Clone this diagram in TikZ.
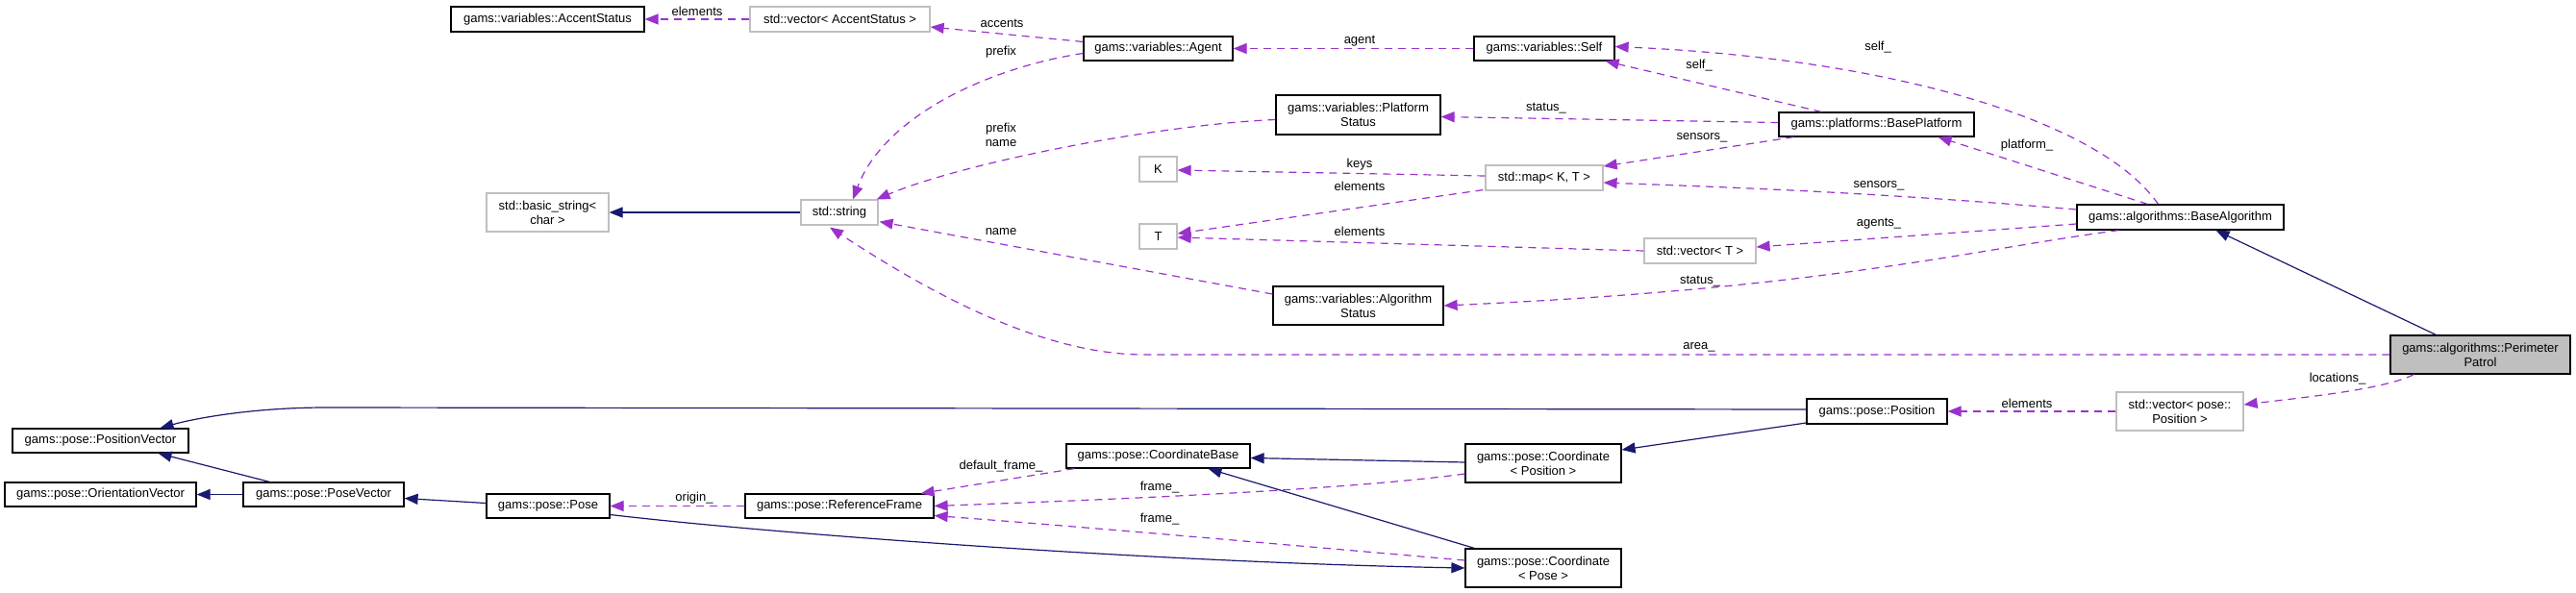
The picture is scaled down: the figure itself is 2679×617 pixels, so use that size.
\documentclass[tikz,border=0pt]{standalone}
\usepackage{fontspec}
\setmainfont{Liberation Sans}
\usetikzlibrary{arrows.meta,calc}
\definecolor{navy}{HTML}{191970}
\definecolor{orchid}{HTML}{9A32CD}
\definecolor{ugrey}{HTML}{BFBFBF}
\tikzset{
  cls/.style={draw=black,line width=1.2pt,rectangle,inner sep=0pt,align=center,font=\fontsize{13}{15}\selectfont},
  ucls/.style={draw=ugrey,line width=1.2pt,rectangle,inner sep=0pt,align=center,font=\fontsize{13}{15}\selectfont},
  cur/.style={draw=black,fill=ugrey,line width=1.2pt,rectangle,inner sep=0pt,align=center,font=\fontsize{13}{15}\selectfont},
  inh/.style={draw=navy,line width=1.2pt,-{Triangle[length=14pt,width=11pt]}},
  use/.style={draw=orchid,line width=1.2pt,dash pattern=on 8pt off 6pt,-{Triangle[length=14pt,width=11pt]}},
  lbl/.style={inner sep=0pt,align=center,font=\fontsize{13}{15}\selectfont}
}
\begin{document}
\begin{tikzpicture}[x=1pt,y=-1pt]
\useasboundingbox (0,0) rectangle (2679,617);
% nodes
\node[cls,minimum width=201,minimum height=26] (acc) at (569.5,20) {gams::variables::AccentStatus};
\node[ucls,minimum width=187,minimum height=26] (vacc) at (873.5,20) {std::vector< AccentStatus >};
\node[cls,minimum width=155,minimum height=25] (agent) at (1204.5,50.5) {gams::variables::Agent};
\node[cls,minimum width=146,minimum height=25] (self) at (1606,50.5) {gams::variables::Self};
\node[cls,minimum width=171,minimum height=41] (pstat) at (1412.5,119.5) {gams::variables::Platform\\Status};
\node[cls,minimum width=203,minimum height=25] (bplat) at (1951.5,129.5) {gams::platforms::BasePlatform};
\node[ucls,minimum width=127,minimum height=40] (bstr) at (569.5,221) {std::basic\_string<\\char >};
\node[ucls,minimum width=80,minimum height=26] (str) at (873,221) {std::string};
\node[ucls,minimum width=39,minimum height=26] (K) at (1204.5,176) {K};
\node[ucls,minimum width=122,minimum height=26] (map) at (1606,185) {std::map< K, T >};
\node[ucls,minimum width=39,minimum height=26] (T) at (1204.5,246) {T};
\node[ucls,minimum width=116,minimum height=26] (vT) at (1768,261) {std::vector< T >};
\node[cls,minimum width=215,minimum height=26] (balg) at (2267.5,226) {gams::algorithms::BaseAlgorithm};
\node[cls,minimum width=177,minimum height=40] (astat) at (1412.5,318) {gams::variables::Algorithm\\Status};
\node[cur,minimum width=187,minimum height=40] (pp) at (2579.5,369) {gams::algorithms::Perimeter\\Patrol};
\node[cls,minimum width=146,minimum height=26] (pos) at (1952,428) {gams::pose::Position};
\node[ucls,minimum width=132,minimum height=40] (vpos) at (2267,428) {std::vector< pose::\\Position >};
\node[cls,minimum width=183,minimum height=25] (posv) at (104.5,458.5) {gams::pose::PositionVector};
\node[cls,minimum width=199,minimum height=25] (orv) at (104.5,514.5) {gams::pose::OrientationVector};
\node[cls,minimum width=167,minimum height=25] (psv) at (336.5,514.5) {gams::pose::PoseVector};
\node[cls,minimum width=128,minimum height=25] (pose) at (570,526.5) {gams::pose::Pose};
\node[cls,minimum width=196,minimum height=25] (rf) at (873,526.5) {gams::pose::ReferenceFrame};
\node[cls,minimum width=191,minimum height=25] (cb) at (1204.5,474.5) {gams::pose::CoordinateBase};
\node[cls,minimum width=162,minimum height=40] (cpos) at (1605,482) {gams::pose::Coordinate\\< Position >};
\node[cls,minimum width=162,minimum height=40] (cpose) at (1605,591) {gams::pose::Coordinate\\< Pose >};

% usage edges (purple dashed)
\draw[use] (vacc.west) -- (acc.east);
\draw[use] ($(agent.west)+(0,-7)$) -- ($(vacc.east)+(0,8)$);
\draw[use] ($(agent.west)+(0,5)$) .. controls (1030,70) and (920,120) .. ($(str.north)+(14,0)$);
\draw[use] ($(pstat.west)+(0,5)$) .. controls (1200,130) and (1000,170) .. ($(str.north east)+(-2,0)$);
\draw[use] (self.west) -- (agent.east);
\draw[use] ($(bplat.north west)+(45,0)$) -- ($(self.south east)+(-10,0)$);
\draw[use] ($(balg.north)+(-23,0)$) .. controls (2180,120) and (1950,60) .. ($(self.east)+(0,-2)$);
\draw[use] ($(bplat.west)+(0,-2)$) -- ($(pstat.east)+(0,2)$);
\draw[use] ($(bplat.south west)+(16,0)$) -- ($(map.east)+(0,-12)$);
\draw[use] ($(balg.north)+(-34,0)$) -- ($(bplat.south east)+(-38,0)$);
\draw[use] ($(balg.west)+(0,-8)$) .. controls (1950,200) and (1800,195) .. ($(map.east)+(0,5)$);
\draw[use] ($(map.west)+(0,-2)$) -- ($(K.east)+(0,1)$);
\draw[use] ($(map.south west)+(-2,-1)$) -- ($(T.east)+(0,-3)$);
\draw[use] (vT.west) -- ($(T.east)+(0,1)$);
\draw[use] ($(balg.west)+(0,7)$) -- ($(vT.east)+(0,-4)$);
\draw[use] ($(balg.south west)+(44,0)$) .. controls (2050,260) and (1900,300) .. (astat.east);
\draw[use] ($(astat.west)+(0,-12)$) -- ($(str.south east)+(1,-4)$);
\draw[use] (pp.west) -- (1190,369) .. controls (1080,369) and (960,300) .. ($(str.south)+(-10,2)$);
\draw[use] ($(pp.south west)+(25,0)$) .. controls (2480,405) and (2400,413) .. ($(vpos.east)+(0,-7)$);
\draw[use] (vpos.west) -- (pos.east);
\draw[use] (rf.west) -- (pose.east);
\draw[use] ($(cb.south west)+(9,0)$) -- ($(rf.north east)+(-14,0)$);
\draw[use] ($(cpos.west)+(0,11)$) .. controls (1400,510) and (1150,520) .. (rf.east);
\draw[use] ($(cpose.west)+(0,-8)$) .. controls (1350,568) and (1150,550) .. ($(rf.east)+(0,10)$);

% inheritance edges (navy solid)
\draw[inh] (str.west) -- (bstr.east);
\draw[inh] ($(pp.north west)+(48,0)$) -- ($(balg.south)+(37,0)$);
\draw[inh] ($(pos.west)+(0,-2)$) -- (340,424) .. controls (260,424) and (200,436) .. ($(posv.north)+(62,0)$);
\draw[inh] ($(pos.west)+(0,12)$) -- ($(cpos.east)+(0,-14)$);
\draw[inh] ($(cpos.west)+(0,-1)$) -- ($(cb.east)+(0,2)$);
\draw[inh] ($(cpose.north west)+(10,0)$) -- ($(cb.south)+(52,0)$);
\draw[inh] ($(pose.east)+(0,9)$) .. controls (800,555) and (1200,585) .. (cpose.west);
\draw[inh] ($(pose.west)+(0,-3)$) -- ($(psv.east)+(0,4)$);
\draw[inh] ($(psv.north west)+(28,0)$) -- ($(posv.south)+(60,0)$);
\draw[inh] (psv.west) -- (orv.east);

% edge labels
\node[lbl] (l1) at (725,12) {elements};
\node[lbl] (l2) at (1042,24) {accents};
\node[lbl] (l3) at (1041,54) {prefix};
\node[lbl] (l4) at (1414,43) {agent};
\node[lbl] (l5) at (1767,68) {self\_};
\node[lbl] (l6) at (1953,49) {self\_};
\node[lbl] (l7) at (1608,113) {status\_};
\node[lbl] (l8) at (1041,140) {prefix\\name};
\node[lbl] (l9) at (1770,143) {sensors\_};
\node[lbl] (l10) at (2108,151) {platform\_};
\node[lbl] (l11) at (1414,171) {keys};
\node[lbl] (l12) at (1414,194) {elements};
\node[lbl] (l13) at (1954,193) {sensors\_};
\node[lbl] (l14) at (1954,233) {agents\_};
\node[lbl] (l15) at (1414,241) {elements};
\node[lbl] (l16) at (1041,241) {name};
\node[lbl] (l17) at (1768,293) {status\_};
\node[lbl] (l18) at (1767,361) {area\_};
\node[lbl] (l19) at (2431,394) {locations\_};
\node[lbl] (l20) at (2108,420) {elements};
\node[lbl] (l21) at (722,518) {origin\_};
\node[lbl] (l22) at (1041,485) {default\_frame\_};
\node[lbl] (l23) at (1206,507) {frame\_};
\node[lbl] (l24) at (1206,540) {frame\_};
\end{tikzpicture}
\end{document}
